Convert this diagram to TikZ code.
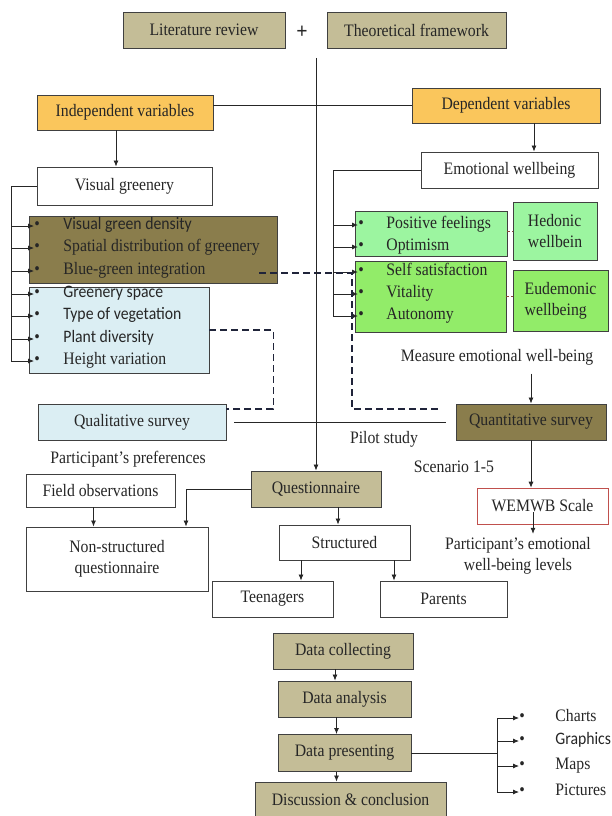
\documentclass[tikz,border=0pt]{standalone}
\usepackage{fontspec}
\setmainfont{Liberation Serif}[Ligatures=TeX, FakeStretch=0.9]
\newfontfamily\calib{Carlito}[FakeStretch=0.9]
\usetikzlibrary{arrows.meta}
\definecolor{sandfarbe}{HTML}{C4BD97}
\definecolor{olivfarbe}{HTML}{8A7D4C}
\definecolor{goldfarbe}{HTML}{FAC65C}
\definecolor{eisblau}{HTML}{DBEEF3}
\definecolor{mintgruen}{HTML}{9CF5A0}
\definecolor{grasgruen}{HTML}{92EC69}
\definecolor{rahmen}{HTML}{404040}
\definecolor{rotrahmen}{HTML}{C0504D}
\definecolor{strichfarbe}{HTML}{20243A}
\definecolor{braunstrich}{HTML}{8B4A3A}
\tikzset{kasten/.style={rectangle,draw=rahmen,line width=0.9pt,inner sep=2pt,fill=white},
	sand/.style={kasten,fill=sandfarbe},
	oliv/.style={kasten,fill=olivfarbe},
	gold/.style={kasten,fill=goldfarbe},
	eis/.style={kasten,fill=eisblau},
	mint/.style={kasten,fill=mintgruen},
	gras/.style={kasten,fill=grasgruen},
	punkt/.style={anchor=west,inner sep=0pt,text height=11pt,text depth=3.5pt},
	pfeil/.style={-{Latex[length=6pt,width=5pt]}},
	strich/.style={dash pattern=on 7pt off 4pt,line width=1.5pt,draw=strichfarbe},
	feinstrich/.style={dash pattern=on 3pt off 2pt,line width=0.6pt,draw=braunstrich} }
\newcommand{\punktbox}[1]{\makebox[#1][l]{\textbullet}}

\begin{document}
\begin{tikzpicture}
	[x=1pt, y=-1pt, line width=0.8pt, color=black!85,
	 font=\rmfamily\fontsize{17.5pt}{21pt}\selectfont]
  \useasboundingbox (0,0) rectangle (611,816);

  % oben
  \node (lit) [sand, minimum width=162pt, minimum height=36pt] at (204,30) {Literature review};
  \node (plus) at (302,32) {\fontsize{22pt}{22pt}\selectfont\textbf{+}};
  \node (theo) [sand, minimum width=179pt, minimum height=36pt] at (416.5,30) {Theoretical framework};
  \coordinate (start) at (316,58);

  \node (unab) [gold, minimum width=176pt, minimum height=35pt] at (125,112.5) {Independent variables};
  \node (abh) [gold, minimum width=188pt, minimum height=35pt] at (506,105.5) {Dependent variables};
  \draw (abh.west) -- (abh.west -| unab.east);

  \node (vg) [kasten, minimum width=175pt, minimum height=38pt] at (124.5,186) {Visual greenery};
  \node (ew) [kasten, minimum width=177pt, minimum height=36pt] at (509.5,170) {Emotional wellbeing};
  \draw[pfeil] ([xshift=-9pt]unab.south) -- ([xshift=-9pt]unab.south |- vg.north);
  \draw[pfeil] ([xshift=28pt]abh.south) -- ([xshift=28pt]abh.south |- ew.north);

  % linke Liste
  \node (dichte) [oliv, minimum width=248pt, minimum height=67pt] at (153,249.5) {};
  \node (raum) [eis, minimum width=180pt, minimum height=86pt] at (119,330) {};
  \node (i1) [punkt] at (34,226) {\punktbox{29pt}{\calib Visual green density}};
  \node (i2) [punkt] at (34,248) {\punktbox{29pt}Spatial distribution of greenery};
  \node (i3) [punkt] at (34,271) {\punktbox{29pt}Blue-green integration};
  \node (i4) [punkt] at (34,294) {\punktbox{29pt}{\calib Greenery space}};
  \node (i5) [punkt] at (34,316) {\punktbox{29pt}{\calib Type of vegetation}};
  \node (i6) [punkt] at (34,339) {\punktbox{29pt}{\calib Plant diversity}};
  \node (i7) [punkt] at (34,361) {\punktbox{29pt}Height variation};
  \coordinate (lbrk) at (11,186);
  \draw[pfeil] (vg.west) -- (lbrk) |- (i7.west);
  \draw[pfeil] (lbrk |- i1.west) -- (i1.west);
  \draw[pfeil] (lbrk |- i2.west) -- (i2.west);
  \draw[pfeil] (lbrk |- i3.west) -- (i3.west);
  \draw[pfeil] (lbrk |- i4.west) -- (i4.west);
  \draw[pfeil] (lbrk |- i5.west) -- (i5.west);
  \draw[pfeil] (lbrk |- i6.west) -- (i6.west);

  % rechte Liste
  \node (grn1) [mint, minimum width=152pt, minimum height=45pt] at (431,233.5) {};
  \node (grn2) [gras, minimum width=151pt, minimum height=71pt] at (430.5,296.5) {};
  \node (hed) [mint, minimum width=84pt, minimum height=58pt, align=left] at (555,231) {Hedonic\\wellbein};
  \node (eud) [gras, minimum width=95pt, minimum height=61pt, align=left] at (560.5,300.5) {Eudemonic\\wellbeing};
  \node (p1) [punkt] at (358,225) {\punktbox{28pt}Positive feelings};
  \node (p2) [punkt] at (358,247) {\punktbox{28pt}Optimism};
  \node (p3) [punkt] at (358,272) {\punktbox{28pt}Self satisfaction};
  \node (p4) [punkt] at (358,294) {\punktbox{28pt}Vitality};
  \node (p5) [punkt] at (358,316) {\punktbox{28pt}Autonomy};
  \coordinate (rbrk) at (333,170);
  \draw[pfeil] (ew.west) -- (ew.west -| rbrk) |- (p5.west);
  \draw[pfeil] (rbrk |- p1.west) -- (p1.west);
  \draw[pfeil] (rbrk |- p2.west) -- (p2.west);
  \draw[pfeil] (rbrk |- p3.west) -- (p3.west);
  \draw[pfeil] (rbrk |- p4.west) -- (p4.west);
  \draw[feinstrich] (hed.west -| grn1.east) -- (hed.west);
  \draw[feinstrich] (grn2.east) -- (grn2.east -| eud.west);

  % Befragung
  \node (mess) at (497,357) {Measure emotional well-being};
  \node (qual) [eis, minimum width=188pt, minimum height=36pt] at (132,422) {Qualitative survey};
  \node (quant) [oliv, minimum width=150pt, minimum height=36pt] at (531,422) {Quantitative survey};
  \draw[pfeil, shorten <=5pt] (quant.north |- mess.south) -- (quant.north);
  \draw[shorten <=8pt, shorten >=10pt] (qual.east) -- (quant.west);
  \node (pilot) at (384,439) {Pilot study};
  \node (praef) at (128,459) {Participant’s preferences};
  \node (szen) at (454,467) {Scenario 1-5};

  \coordinate (d1a) at (259,273);
  \coordinate (d1b) at (440,409);
  \draw[strich] (d1a) -- ++(93,0) |- (d1b);
  \draw[strich] (raum.east) -- ++(64,0) |- ([yshift=13pt]qual.east);

  \node (fobs) [kasten, minimum width=149pt, minimum height=33pt] at (100.5,490.5) {Field observations};
  \node (quest) [sand, minimum width=130pt, minimum height=36pt] at (316,489) {Questionnaire};
  \draw[pfeil] (start) -- (quest.north);
  \node (nonstr) [kasten, minimum width=182pt, minimum height=64pt, align=center] at (117,559) {Non-structured\\questionnaire};
  \draw[pfeil] ([xshift=-7pt]fobs.south) -- ([xshift=-7pt]fobs.south |- nonstr.north);
  \draw[pfeil] (quest.west) -| ([xshift=69pt]nonstr.north);
  \node (struct) [kasten, minimum width=131pt, minimum height=35pt] at (344.5,542.5) {Structured};
  \draw[pfeil] ([xshift=22pt]quest.south) -- ([xshift=22pt]quest.south |- struct.north);
  \node (teen) [kasten, minimum width=121pt, minimum height=36pt] at (272.5,599) {Teenagers};
  \node (eltern) [kasten, minimum width=127pt, minimum height=36pt] at (443.5,599) {Parents};
  \draw[pfeil] ([xshift=-43.5pt]struct.south) -- ([xshift=-43.5pt]struct.south |- teen.north);
  \draw[pfeil] ([xshift=49.5pt]struct.south) -- ([xshift=49.5pt]struct.south |- eltern.north);

  \node (wemwb) [kasten, draw=rotrahmen, line width=0.6pt, minimum width=131pt, minimum height=36pt] at (542.5,506) {WEMWB Scale};
  \draw[pfeil] (quant.south) -- (quant.south |- wemwb.north);
  \node (stufen) [align=center] at (518,556) {Participant’s emotional\\well-being levels};
  \coordinate (wpfeil) at ([xshift=-9.5pt,yshift=12pt]wemwb.south);
  \draw[pfeil] (wpfeil) -- (wpfeil |- stufen.north);

  % Daten
  \node (dcoll) [sand, minimum width=140pt, minimum height=36pt] at (343,651) {Data collecting};
  \node (danal) [sand, minimum width=133pt, minimum height=36pt] at (344.5,699) {Data analysis};
  \node (dpres) [sand, minimum width=133pt, minimum height=37pt] at (344.5,753) {Data presenting};
  \node (disk) [sand, minimum width=191pt, minimum height=36pt] at (350.5,800) {Discussion \& conclusion};
  \draw[pfeil] ([xshift=-8pt]dcoll.south) -- ([xshift=-8pt]dcoll.south |- danal.north);
  \draw[pfeil] ([xshift=-8pt]danal.south) -- ([xshift=-8pt]danal.south |- dpres.north);
  \draw[pfeil] ([xshift=-8pt]dpres.south) -- ([xshift=-8pt]dpres.south |- disk.north);

  \node (chart) [punkt] at (519,718) {\punktbox{36pt}Charts};
  \node (graf) [punkt] at (519,741) {\punktbox{36pt}{\calib Graphics}};
  \node (karte) [punkt] at (519,766) {\punktbox{36pt}Maps};
  \node (bild) [punkt] at (519,792) {\punktbox{36pt}Pictures};
  \coordinate (dbrk) at (497,718);
  \draw (dpres.east) -- (dpres.east -| dbrk);
  \draw[pfeil] (dbrk) |- (bild.west);
  \draw[pfeil] (dbrk) -- (chart.west);
  \draw[pfeil] (dbrk |- graf.west) -- (graf.west);
  \draw[pfeil] (dbrk |- karte.west) -- (karte.west);
\end{tikzpicture}
\end{document}
